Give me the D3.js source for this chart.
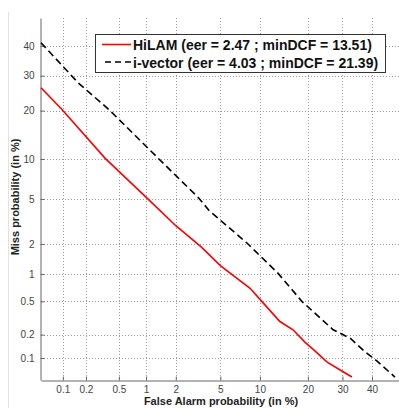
<!DOCTYPE html>
<html>
<head>
<meta charset="utf-8">
<script src="https://cdn.jsdelivr.net/npm/d3@7/dist/d3.min.js"></script>
<style>
body { margin: 0; background: #fff; }
text { font-family: Arial, "Liberation Sans", sans-serif; }
</style>
</head>
<body>
<div id="chart"></div>
<script>
// DET curves, values in %
var hilamFa   = [0.05, 0.098, 0.345, 1.03, 2.0, 3.45, 5.0, 6.1, 8.5, 10.3, 13.6, 16.4, 19.3, 21.4, 25.3, 30.2, 33.1];
var hilamMiss = [26.3, 20.2, 10.1, 5.05, 2.95, 1.86, 1.22, 1.0, 0.70, 0.50, 0.29, 0.23, 0.16, 0.13, 0.088, 0.065, 0.055];
var ivecFa    = [0.05, 0.159, 0.385, 1.34, 3.23, 4.02, 8.1, 13.2, 18.5, 27.1, 32.5, 37.6, 41.8, 48.3];
var ivecMiss  = [41.1, 27.8, 20.2, 10.1, 5.14, 4.01, 2.03, 1.02, 0.50, 0.23, 0.18, 0.12, 0.091, 0.055];
var tickVals  = [0.1, 0.2, 0.5, 1, 2, 5, 10, 20, 30, 40];
var legendLabels = ["HiLAM (eer = 2.47 ; minDCF = 13.51)", "i-vector (eer = 4.03 ; minDCF = 21.39)"];

// inverse normal cdf (Acklam), to get the probit axes
function probit(p) {
    var a = [-3.969683028665376e+01, 2.209460984245205e+02, -2.759285104469687e+02, 1.383577518672690e+02, -3.066479806614716e+01, 2.506628277459239e+00];
    var b = [-5.447609879822406e+01, 1.615858368580409e+02, -1.556989798598866e+02, 6.680131188771972e+01, -1.328068155288572e+01];
    var c = [-7.784894002430293e-03, -3.223964580411365e-01, -2.400758277161838e+00, -2.549732539343734e+00, 4.374664141464968e+00, 2.938163982698783e+00];
    var d = [7.784695709041462e-03, 3.224671290700398e-01, 2.445134137142996e+00, 3.754408661907416e+00];
    var pl = 0.02425, q, r;
    if (p < pl) {
        q = Math.sqrt(-2 * Math.log(p));
        return (((((c[0]*q+c[1])*q+c[2])*q+c[3])*q+c[4])*q+c[5]) / ((((d[0]*q+d[1])*q+d[2])*q+d[3])*q+1);
    } else if (p <= 1 - pl) {
        q = p - 0.5; r = q * q;
        return (((((a[0]*r+a[1])*r+a[2])*r+a[3])*r+a[4])*r+a[5])*q / (((((b[0]*r+b[1])*r+b[2])*r+b[3])*r+b[4])*r+1);
    }
    q = Math.sqrt(-2 * Math.log(1 - p));
    return -(((((c[0]*q+c[1])*q+c[2])*q+c[3])*q+c[4])*q+c[5]) / ((((d[0]*q+d[1])*q+d[2])*q+d[3])*q+1);
}
var pr = function (v) { return probit(v / 100) }

var width = 399, height = 408;
var plotLeft = 41, plotRight = 399.6, plotTop = 18, plotBottom = 380;

var svg = d3.select("#chart").append("svg")
    .attr("width", width)
    .attr("height", height)

// light frame line on the left
svg.append("line")
    .attr("x1", 8.5).attr("x2", 8.5)
    .attr("y1", 12).attr("y2", height)
    .attr("stroke", "#e2e2e2")

var x = d3.scaleLinear().domain([pr(0.05), pr(50)]).range([plotLeft, plotRight])
var y = d3.scaleLinear().domain([pr(0.05), pr(50)]).range([plotBottom, plotTop])

// grid
var grid = svg.append("g")
    .attr("stroke", "#9a9a9a")
    .attr("stroke-dasharray", "1,2")
grid.selectAll(".vg").data(tickVals).enter().append("line")
    .attr("x1", d => Math.round(x(pr(d))) + 0.5)
    .attr("x2", d => Math.round(x(pr(d))) + 0.5)
    .attr("y1", plotTop).attr("y2", plotBottom)
grid.selectAll(".hg").data(tickVals).enter().append("line")
    .attr("y1", d => Math.round(y(pr(d))) + 0.5)
    .attr("y2", d => Math.round(y(pr(d))) + 0.5)
    .attr("x1", plotLeft).attr("x2", width)

// axes
svg.append("g")
    .attr("transform", "translate(0," + (plotBottom + 0.5) + ")")
    .call(d3.axisBottom(x)
        .tickValues(tickVals.map(pr))
        .tickFormat((d, i) => tickVals[i])
        .tickSizeInner(-4)
        .tickSizeOuter(0)
        .tickPadding(5))
svg.append("g")
    .attr("transform", "translate(" + (plotLeft - 0.5) + ",0)")
    .call(d3.axisLeft(y)
        .tickValues(tickVals.map(pr))
        .tickFormat((d, i) => tickVals[i])
        .tickSizeInner(-4)
        .tickSizeOuter(0)
        .tickPadding(6))
svg.selectAll(".domain").attr("stroke", "#666")
svg.selectAll(".tick line").attr("stroke", "#666")
svg.selectAll(".tick text")
    .attr("fill", "#444")
    .style("font-size", "10px")
    .style("font-family", "Arial, 'Liberation Sans', sans-serif")

// curves
var line = d3.line()
    .x(d => x(pr(d[0])))
    .y(d => y(pr(d[1])))

svg.append("path")
    .datum(ivecFa.map((v, i) => [v, ivecMiss[i]]))
    .attr("d", line)
    .attr("fill", "none")
    .attr("stroke", "#000")
    .attr("stroke-width", 1.6)
    .attr("stroke-dasharray", "7,4")

svg.append("path")
    .datum(hilamFa.map((v, i) => [v, hilamMiss[i]]))
    .attr("d", line)
    .attr("fill", "none")
    .attr("stroke", "#ff0000")
    .attr("stroke-width", 1.6)

// axis labels
svg.append("text")
    .attr("x", 221)
    .attr("y", 405)
    .attr("text-anchor", "middle")
    .style("font-size", "11px")
    .style("font-weight", "bold")
    .attr("fill", "#222")
    .text("False Alarm probability (in %)")
svg.append("text")
    .attr("transform", "translate(19,197) rotate(-90)")
    .attr("text-anchor", "middle")
    .style("font-size", "11px")
    .style("font-weight", "bold")
    .attr("fill", "#222")
    .text("Miss probability (in %)")

// legend
var legend = svg.append("g")
legend.append("rect")
    .attr("x", 95.5).attr("y", 34.5)
    .attr("width", 290).attr("height", 38)
    .attr("fill", "#fff")
    .attr("stroke", "#333")
var legendStyle = [
    { color: "#ff0000", dash: null, x1: 102, yy: 44.5 },
    { color: "#000", dash: "6,4", x1: 105, yy: 62 }
]
legendStyle.forEach(function (s, i) {
    legend.append("line")
        .attr("x1", s.x1).attr("x2", 131)
        .attr("y1", s.yy).attr("y2", s.yy)
        .attr("stroke", s.color)
        .attr("stroke-width", 1.6)
        .attr("stroke-dasharray", s.dash)
    legend.append("text")
        .attr("x", 133)
        .attr("y", s.yy + 5.5)
        .style("font-size", "14px")
        .style("font-weight", "bold")
        .attr("fill", "#111")
        .text(legendLabels[i])
})
</script>
</body>
</html>
